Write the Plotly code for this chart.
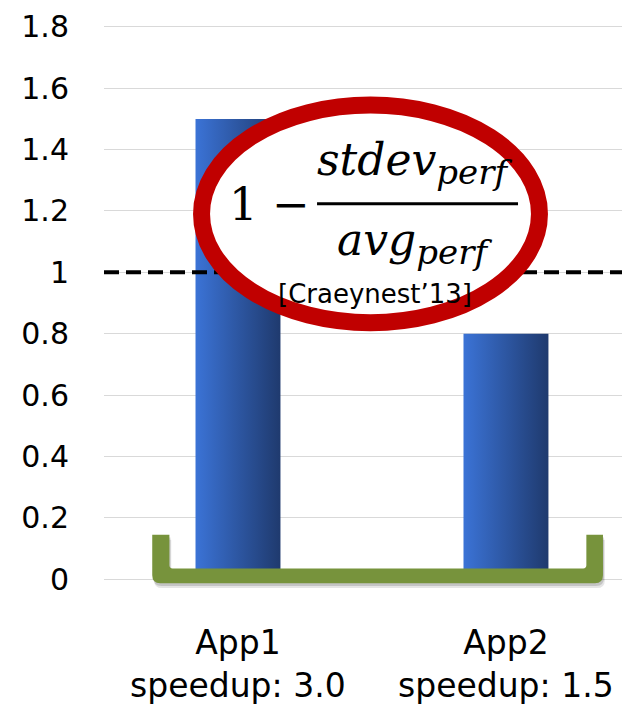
import plotly.graph_objects as go

# Data
apps = ["App1", "App2"]
speedups = ["3.0", "1.5"]
fairness = [1.5, 0.8]
target = 1.0
y_ticks = [0, 0.2, 0.4, 0.6, 0.8, 1.0, 1.2, 1.4, 1.6, 1.8]

bar_width = 0.317
blue_scale = [[0.0, "#3b73d6"], [1.0, "#1f3a6e"]]
green = "#77933c"
red = "#c00000"

fig = go.Figure()

# Bars drawn as filled polygons so each can carry a horizontal gradient
for i, v in enumerate(fairness):
    x0, x1 = i - bar_width / 2, i + bar_width / 2
    fig.add_trace(go.Scatter(
        x=[x0, x1, x1, x0, x0], y=[0, 0, v, v, 0],
        mode="lines", line=dict(width=0), fill="toself",
        fillgradient=dict(type="horizontal", colorscale=blue_scale),
        hoverinfo="skip", showlegend=False,
    ))

shapes = []

# Reference line at 1
shapes.append(dict(type="line", xref="paper", x0=0, x1=1, yref="y", y0=target, y1=target,
                   line=dict(color="black", width=4, dash="15px,7px"), layer="above"))


def bracket(dx=0.0, dy=0.0):
    xl, xli, xri, xr = -0.320 + dx, -0.256 + dx, 1.300 + dx, 1.362 + dx
    top, inner, bot = 0.145 + dy, 0.0354 + dy, -0.0129 + dy
    rx, ry = 0.03, 0.026
    rxi, ryi = 0.012, 0.010
    return (f"M {xl},{top} L {xl},{bot + ry} Q {xl},{bot} {xl + rx},{bot} "
            f"L {xr - rx},{bot} Q {xr},{bot} {xr},{bot + ry} L {xr},{top} "
            f"L {xri},{top} L {xri},{inner + ryi} Q {xri},{inner} {xri - rxi},{inner} "
            f"L {xli + rxi},{inner} Q {xli},{inner} {xli},{inner + ryi} L {xli},{top} Z")


# Soft shadow then the green bracket along the baseline
shapes.append(dict(type="path", xref="x", yref="y", path=bracket(0.007, -0.016),
                   fillcolor="rgba(0,0,0,0.10)", line=dict(width=0), layer="above"))
shapes.append(dict(type="path", xref="x", yref="y", path=bracket(0.004, -0.009),
                   fillcolor="rgba(0,0,0,0.14)", line=dict(width=0), layer="above"))
shapes.append(dict(type="path", xref="x", yref="y", path=bracket(),
                   fillcolor=green, line=dict(width=0), layer="above"))

# Red ellipse holding the formula
shapes.append(dict(type="circle", xref="x", yref="y", x0=-0.136, x1=1.125, y0=0.836, y1=1.545,
                   fillcolor="white", line=dict(color=red, width=17), layer="above"))

# Fraction bar
shapes.append(dict(type="line", xref="x", yref="y", x0=0.295, x1=1.045, y0=1.2235, y1=1.2235,
                   line=dict(color="black", width=3), layer="above"))

fig.update_layout(shapes=shapes)

math_font = dict(family="DejaVu Serif", size=44, color="black", style="italic")
sub = "<sub><span style='font-size:34px'>perf</span></sub>"
annotations = [
    dict(x=0.119, y=1.220, text="1 −", font=dict(family="DejaVu Serif", size=45, color="black")),
    dict(x=0.660, y=1.355, text="stdev" + sub, font=math_font),
    dict(x=0.660, y=1.095, text="avg" + sub, font=math_font),
    dict(x=0.511, y=0.930, text="[Craeynest’13]",
         font=dict(family="DejaVu Sans", size=26, color="black")),
]
for a in annotations:
    a.update(xref="x", yref="y", showarrow=False, xanchor="center", yanchor="middle")

# Second line of each category label
for i, s in enumerate(speedups):
    annotations.append(dict(x=i, xref="x", y=-0.1458, yref="paper", text=f"speedup: {s}",
                            showarrow=False, xanchor="center", yanchor="middle",
                            font=dict(family="DejaVu Sans", size=33, color="black")))
fig.update_layout(annotations=annotations)

fig.update_xaxes(
    range=[-0.5, 1.433],
    tickvals=list(range(len(apps))),
    ticktext=apps,
    showgrid=False, zeroline=False, showline=False,
    tickfont=dict(family="DejaVu Sans", size=33, color="black"),
    ticks="", ticklabelstandoff=20,
)
fig.update_yaxes(
    range=[-0.0676, 1.832],
    tickvals=y_ticks,
    ticktext=[f"{t:g}" for t in y_ticks],
    showgrid=True, gridcolor="#d9d9d9", gridwidth=1,
    zeroline=False, showline=False,
    tickfont=dict(family="DejaVu Sans", size=30, color="black"),
    ticks="", ticklabelstandoff=34,
)

fig.update_layout(
    width=631, height=708,
    margin=dict(l=104, r=9, t=10, b=108),
    plot_bgcolor="white", paper_bgcolor="white",
    showlegend=False,
)

fig.write_html("out.html")
